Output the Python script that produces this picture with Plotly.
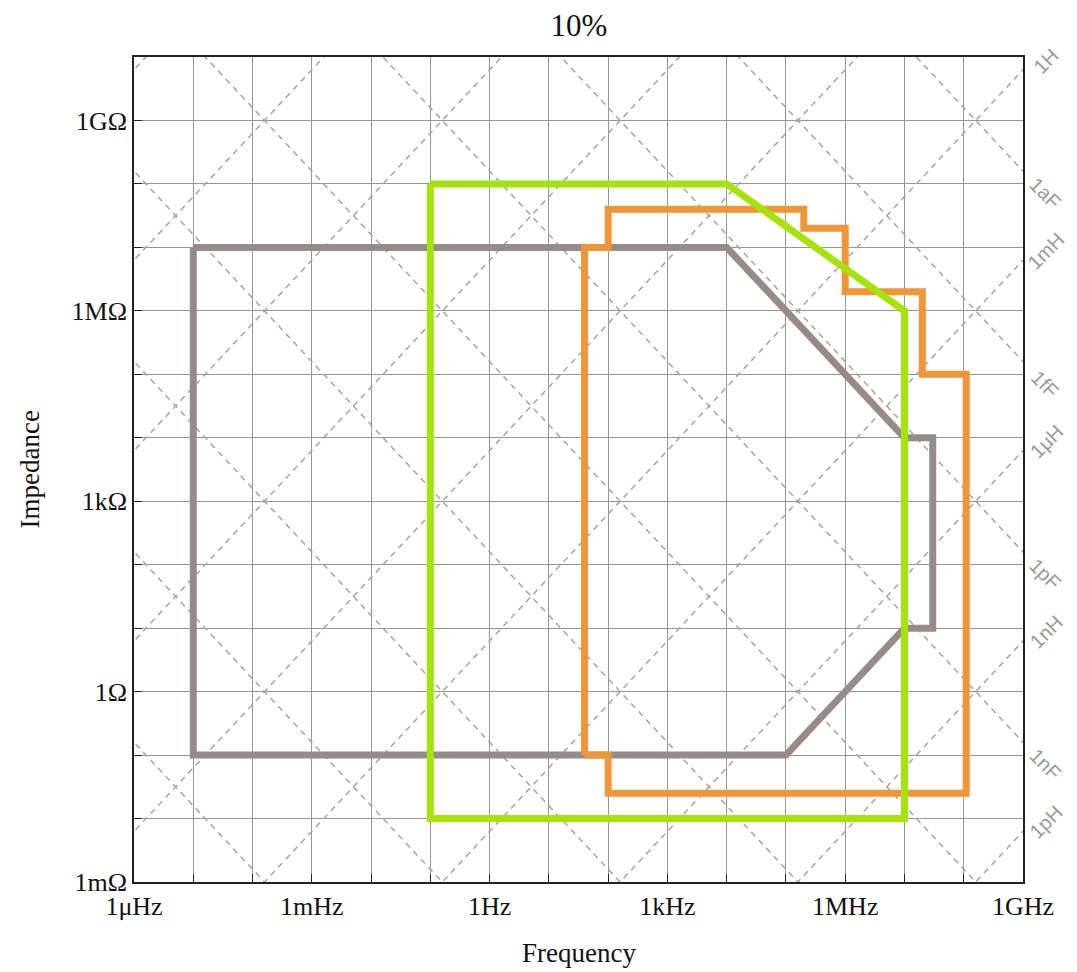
import numpy as np
import plotly.graph_objects as go

# ---------------- data ----------------
gray_f = [1e-5, 1e4, 1e7, 3e7, 3e7, 1e7, 1e5, 1e-5, 1e-5]
gray_z = [1e7, 1e7, 1e4, 1e4, 10, 10, 0.1, 0.1, 1e7]

orange_f = [40, 40, 100, 100, 2e5, 2e5, 1e6, 1e6, 2e7, 2e7, 1.1e8, 1.1e8, 100, 100, 40]
orange_z = [0.1, 1e7, 1e7, 4e7, 4e7, 2e7, 2e7, 2e6, 2e6, 1e5, 1e5, 0.025, 0.025, 0.1, 0.1]

green_f = [0.1, 1e4, 1e7, 1e7, 0.1, 0.1]
green_z = [1e8, 1e8, 1e6, 0.01, 0.01, 1e8]

x_tick_exps = list(range(-6, 10))
x_tick_labels = {-6: "1\u03bcHz", -3: "1mHz", 0: "1Hz", 3: "1kHz", 6: "1MHz", 9: "1GHz"}
y_tick_exps = list(range(-3, 11))
y_tick_labels = {-3: "1m\u03a9", 0: "1\u03a9", 3: "1k\u03a9", 6: "1M\u03a9", 9: "1G\u03a9"}

# reference component lines (exponents of L in H and C in F)
L_exps = list(range(-12, 16, 3))
C_exps = list(range(-18, 7, 3))
L_labels = {0: "1H", -3: "1mH", -6: "1\u03bcH", -9: "1nH", -12: "1pH"}
C_labels = {-18: "1aF", -15: "1fF", -12: "1pF", -9: "1nF"}

# ---------------- figure ----------------
fig = go.Figure()

f_ends = np.array([1e-8, 1e11])
lx, ly = [], []
for e in L_exps:
    L = 10.0 ** e
    z = 2 * np.pi * f_ends * L
    lx += list(f_ends) + [None]
    ly += list(z) + [None]
cx, cy = [], []
for e in C_exps:
    C = 10.0 ** e
    z = 1 / (2 * np.pi * f_ends * C)
    cx += list(f_ends) + [None]
    cy += list(z) + [None]

dash_style = dict(color="#a5a5a5", width=1.5, dash="6px,5px")
fig.add_trace(go.Scatter(x=lx, y=ly, mode="lines", line=dash_style, hoverinfo="skip", showlegend=False))
fig.add_trace(go.Scatter(x=cx, y=cy, mode="lines", line=dash_style, hoverinfo="skip", showlegend=False))

fig.add_trace(go.Scatter(x=gray_f, y=gray_z, mode="lines",
                         line=dict(color="#968b8b", width=7), showlegend=False))
fig.add_trace(go.Scatter(x=orange_f, y=orange_z, mode="lines",
                         line=dict(color="#f0963a", width=7), showlegend=False))
fig.add_trace(go.Scatter(x=green_f, y=green_z, mode="lines",
                         line=dict(color="#a6e30a", width=7), showlegend=False))

serif = "Liberation Serif, Times New Roman, serif"
axis_common = dict(
    type="log", showgrid=True, gridcolor="#959595", gridwidth=1.3,
    showline=True, linecolor="#222222", linewidth=1.6, mirror=True,
    ticks="inside", ticklen=8, tickcolor="#222222", tickwidth=1.2,
    zeroline=False, tickfont=dict(family=serif, size=26, color="#111111"),
)

fig.update_xaxes(range=[-6, 9], tickmode="array",
                 tickvals=[10.0 ** e for e in x_tick_exps],
                 ticktext=[x_tick_labels.get(e, "") for e in x_tick_exps],
                 **axis_common)
fig.update_yaxes(range=[-3, 10], tickmode="array",
                 tickvals=[10.0 ** e for e in y_tick_exps],
                 ticktext=[y_tick_labels.get(e, "") for e in y_tick_exps],
                 **axis_common)

label_font = dict(family="Liberation Sans, Arial, sans-serif", size=20, color="#9a9a9a")
annotations = []
f_right = 1e9
for e, txt in L_labels.items():
    z = 2 * np.pi * f_right * 10.0 ** e
    annotations.append(dict(x=1, xref="paper", y=np.log10(z), yref="y", text=txt,
                            textangle=-45, showarrow=False, xanchor="center", yanchor="middle",
                            xshift=23, yshift=9, font=label_font))
for e, txt in C_labels.items():
    z = 1 / (2 * np.pi * f_right * 10.0 ** e)
    annotations.append(dict(x=1, xref="paper", y=np.log10(z), yref="y", text=txt,
                            textangle=45, showarrow=False, xanchor="center", yanchor="middle",
                            xshift=22, yshift=-22, font=label_font))

annotations.append(dict(x=0.5, xref="paper", y=-0.086, yref="paper", text="Frequency",
                        showarrow=False, xanchor="center", yanchor="middle",
                        font=dict(family=serif, size=27, color="#111111")))
annotations.append(dict(x=-0.117, xref="paper", y=0.5, yref="paper", text="Impedance",
                        textangle=-90, showarrow=False, xanchor="center", yanchor="middle",
                        font=dict(family=serif, size=27, color="#111111")))

fig.update_layout(
    width=1077, height=972,
    margin=dict(l=134, r=54, t=57, b=90),
    paper_bgcolor="white", plot_bgcolor="white",
    title=dict(text="10%", x=0.5375, xanchor="center", y=1 - 25 / 972, yanchor="middle",
               yref="container", font=dict(family=serif, size=31, color="#111111")),
    annotations=annotations,
    showlegend=False,
)

fig.write_html("out.html")
